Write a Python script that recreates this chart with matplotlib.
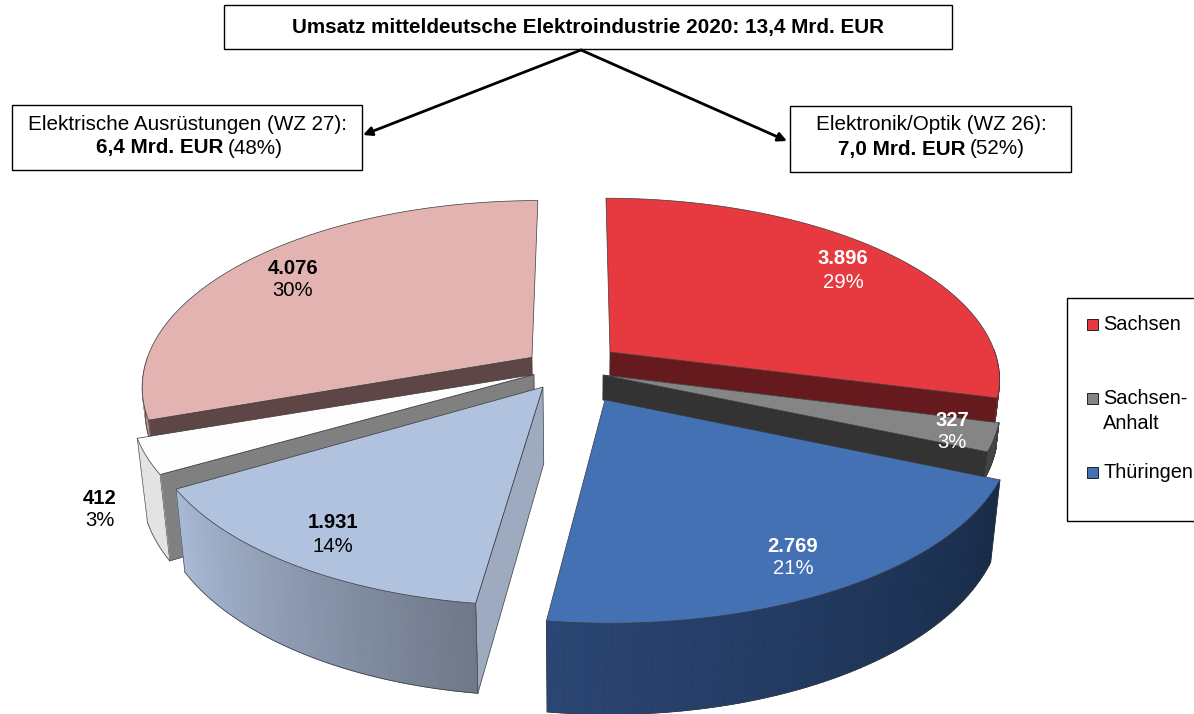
#!/usr/bin/env python3
import numpy as np
import matplotlib
matplotlib.use('Agg')
import matplotlib.pyplot as plt
from matplotlib.collections import PolyCollection
from matplotlib.colors import to_rgb
from matplotlib.patches import Polygon, Rectangle

plt.rcParams['font.family'] = ['Liberation Sans', 'DejaVu Sans']

# Umsatz in Mio. EUR, clockwise from 12 o'clock
regions = ['Sachsen', 'Sachsen-Anhalt', 'Thüringen', 'Thüringen 27', 'Sachsen-Anhalt 27', 'Sachsen 27']
values = [3896, 327, 2769, 1931, 412, 4076]
percent = [29, 3, 21, 14, 3, 30]

legend_labels = ['Sachsen', 'Sachsen-\nAnhalt', 'Thüringen']
legend_colors = ['#E63A40', '#858585', '#4470B4']

# slice offsets and extrusion heights of the 3D look
offsets = [(32.6, 51), (25, 0), (26.5, -53), (-34.7, -26), (-44, 1), (-46.7, 39)]
heights = [24, 25, 76, 76, 80, 24]
radius_x = [392, 393, 395, 387, 398, 390]
radius_y = [398, 398, 398, 398, 398, 403]
top_colors = ['#E63A40', '#858585', '#4470B4', '#B0C2DE', '#FDFDFD', '#E3B3B2']
side_colors = ['#661A1E', '#333333', None, '#9DAABF', '#808080', '#5E4646']
rim_start = ['#8A2226', '#444444', '#172A47', '#6F7889', '#E3E3E3', '#B79090']
rim_end = ['#8A2226', '#444444', '#2B4674', '#A9BAD6', '#E3E3E3', '#B79090']
side_at_end = [True, True, None, False, False, False]
text_colors = ['white', 'white', 'white', 'black', 'black', 'black']
label_pos = [(843, 259), (952, 420), (793, 546), (333, 523), (100, 498), (293, 268)]
draw_order = [5, 4, 3, 0, 1, 2]

DEPTH = 2713
VX, VY, PLANE = 578, -870, 1245
EDGE = '#3A3A3A'


def project(x, y, h=0):
    s = DEPTH / (DEPTH + np.asarray(y, dtype=float))
    sx = VX + x * s * (1 - 0.00029 * h)
    sy = VY + (PLANE + h) * s
    return sx, sy


def rim(theta, i):
    return offsets[i][0] + radius_x[i] * np.sin(theta), offsets[i][1] + radius_y[i] * np.cos(theta)


def draw_slice(ax, i, t1, t2, z):
    off, h = offsets[i], heights[i]
    thetas = np.linspace(t1, t2, 90)
    x, y = rim(thetas, i)

    # radial wall facing the viewer
    if side_colors[i] is not None:
        t = t2 if side_at_end[i] else t1
        rx, ry = rim(t, i)
        pts = [project(off[0], off[1]), project(rx, ry), project(rx, ry, h), project(off[0], off[1], h)]
        ax.add_patch(Polygon(pts, facecolor=side_colors[i], edgecolor=EDGE, lw=0.5, zorder=z))

    # outer wall, only the part facing the viewer
    mask = np.cos(thetas) < 0.02
    if mask.sum() > 1:
        tx, ty = project(x[mask], y[mask])
        bx, by = project(x[mask], y[mask], h)
        quads, cols = [], []
        c1, c2 = np.array(to_rgb(rim_start[i])), np.array(to_rgb(rim_end[i]))
        for k in range(len(tx) - 1):
            quads.append([(tx[k], ty[k]), (tx[k + 1], ty[k + 1]), (bx[k + 1], by[k + 1]), (bx[k], by[k])])
            cols.append(c1 + (c2 - c1) * k / (len(tx) - 2))
        ax.add_collection(PolyCollection(quads, facecolors=cols, edgecolors=cols, linewidths=0.7, zorder=z + 0.01))
        ax.plot(bx, by, color=EDGE, lw=0.5, zorder=z + 0.02)
        for end in (0, -1):
            if abs(np.cos(thetas[mask][end])) > 0.15:
                ax.plot([bx[end], tx[end]], [by[end], ty[end]], color=EDGE, lw=0.4, zorder=z + 0.02)

    # top face
    sx, sy = project(np.r_[off[0], x], np.r_[off[1], y])
    ax.add_patch(Polygon(np.c_[sx, sy], facecolor=top_colors[i], edgecolor=EDGE, lw=0.5, zorder=z + 0.03))


def text_box(ax, x0, y0, x1, y1):
    ax.add_patch(Rectangle((x0, y0), x1 - x0, y1 - y0, facecolor='white', edgecolor='black', lw=1.0))


fig = plt.figure(figsize=(11.94, 7.14), dpi=100)
ax = fig.add_axes([0, 0, 1, 1])
ax.set_xlim(0, 1194)
ax.set_ylim(714, 0)
ax.axis('off')

edges = np.r_[0, np.cumsum(values)] / sum(values) * 2 * np.pi
for n, i in enumerate(draw_order):
    draw_slice(ax, i, edges[i], edges[i + 1], 1 + n * 0.1)

for i, (x, y) in enumerate(label_pos):
    amount = f'{values[i]:,}'.replace(',', '.')
    ax.text(x, y, amount, color=text_colors[i], fontsize=14.6, fontweight='bold', ha='center', va='center')
    ax.text(x, y + 23, f'{percent[i]}%', color=text_colors[i], fontsize=14.6, ha='center', va='center')

# Kästen oben
text_box(ax, 224, 5, 952, 49)
ax.text(588.5, 28, 'Umsatz mitteldeutsche Elektroindustrie 2020: 13,4 Mrd. EUR', fontsize=14.9,
        fontweight='bold', ha='center', va='center')
text_box(ax, 12, 105, 362, 170)
ax.text(187, 124, 'Elektrische Ausrüstungen (WZ 27):', fontsize=14.9, ha='center', va='center')
ax.text(223, 148, '6,4 Mrd. EUR', fontsize=14.9, fontweight='bold', ha='right', va='center')
ax.text(228, 148, '(48%)', fontsize=14.9, ha='left', va='center')
text_box(ax, 790, 106, 1071, 172)
ax.text(931, 124, 'Elektronik/Optik (WZ 26):', fontsize=14.9, ha='center', va='center')
ax.text(965, 149, '7,0 Mrd. EUR', fontsize=14.9, fontweight='bold', ha='right', va='center')
ax.text(970, 149, '(52%)', fontsize=14.9, ha='left', va='center')

for target in [(363, 135), (787, 141)]:
    ax.annotate('', xy=target, xytext=(581, 50),
                arrowprops=dict(arrowstyle='-|>', color='black', lw=2, mutation_scale=13, shrinkA=0, shrinkB=0))

# Legende
ax.add_patch(Rectangle((1067, 298), 140, 223, facecolor='white', edgecolor='black', lw=1.0, clip_on=True))
legend_y = [325, 411, 473]
for name, col, y in zip(legend_labels, legend_colors, legend_y):
    first_y = y - 13 if '\n' in name else y - 1
    ax.add_patch(Rectangle((1087, first_y - 5), 11, 11, facecolor=col, edgecolor='#222222', lw=0.7))
    ax.text(1103, y, name, fontsize=14.4, ha='left', va='center', linespacing=1.38)

fig.savefig('out.png', dpi=100)
